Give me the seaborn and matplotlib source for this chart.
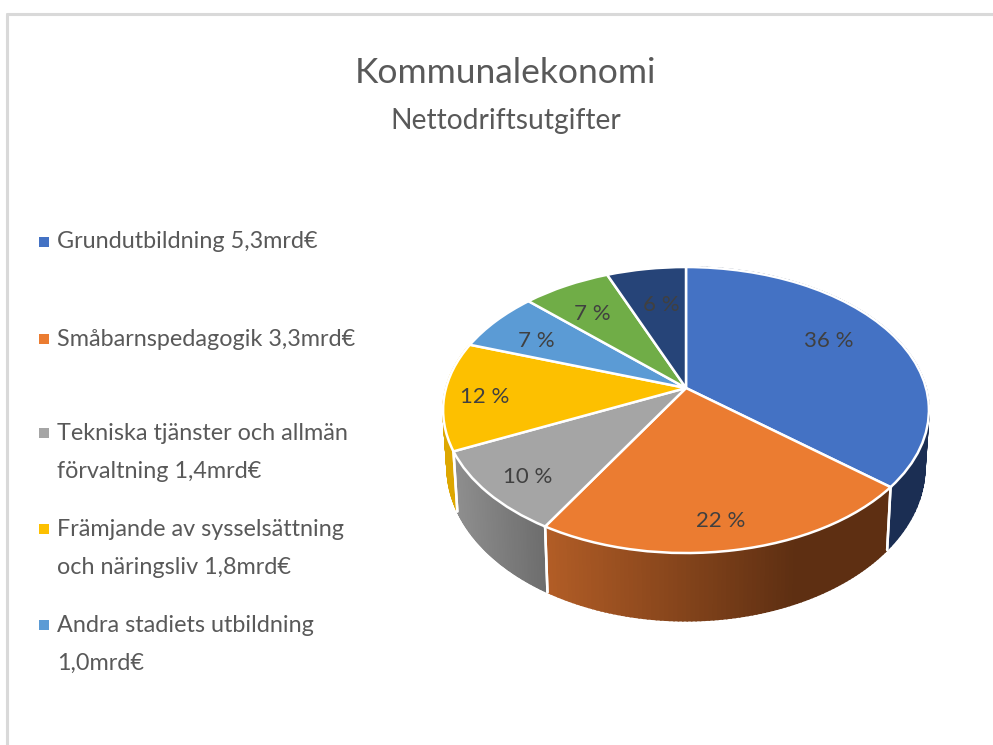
import matplotlib
matplotlib.use('Agg')
import matplotlib.pyplot as plt
import matplotlib.transforms as mtransforms
from matplotlib.colors import to_rgb
import seaborn as sns
import numpy as np

title = 'Kommunalekonomi'
subtitle = 'Nettodriftsutgifter'
# mrd euro, last two are not in the visible legend so estimated from the slices
amounts = [5.3, 3.3, 1.4, 1.8, 1.0, 1.0, 0.9]
share_labels = ['36 %', '22 %', '10 %', '12 %', '7 %', '7 %', '6 %']
legend_lines = [
    ['Grundutbildning 5,3mrd€'],
    ['Småbarnspedagogik 3,3mrd€'],
    ['Tekniska tjänster och allmän', 'förvaltning 1,4mrd€'],
    ['Främjande av sysselsättning', 'och näringsliv 1,8mrd€'],
    ['Andra stadiets utbildning', '1,0mrd€'],
]
top_colors = ['#4472C4', '#EB7C31', '#A5A5A5', '#FDC000', '#5B9BD5', '#70AD47', '#264478']

# pie centre and shape, in pixels
CX, CY = 686, 388
FONT = 'Lato'


def project(u, v, a=139.6, b=240.0, k=0.154, drop=0.0):
    # tilted disc: far side gets smaller than near side
    w = 1 + k * v
    return CX + b * u / w, CY - a * v / w + drop


class Tilt(mtransforms.Transform):
    input_dims = 2
    output_dims = 2

    def transform_non_affine(self, values):
        x, y = project(values[:, 0], values[:, 1])
        return np.column_stack([x, y])


def rim_color(i, t):
    # side faces, orange and grey have a gradient left to right
    if i == 1:
        f = min(t / 0.72, 1)
        return np.array(to_rgb('#B25D26')) * (1 - f) + np.array(to_rgb('#5E2F12')) * f
    if i == 2:
        return np.array(to_rgb('#8F8F8F')) * (1 - t) + np.array(to_rgb('#6D6D6D')) * t
    if i == 3:
        return to_rgb('#DDA700')
    return to_rgb('#1B2E53')


sns.set_theme(style='white')
plt.rcParams['font.family'] = [FONT, 'DejaVu Sans']

fig = plt.figure(figsize=(9.93, 7.45), dpi=100)
ax = fig.add_axes([0, 0, 1, 1])

wedges, _ = ax.pie(amounts, colors=sns.color_palette(top_colors), startangle=90, counterclock=False,
                   wedgeprops={'edgecolor': 'white', 'linewidth': 1.8})
tilt = Tilt() + ax.transData
for w in wedges:
    w.set_transform(tilt)
    w.set_zorder(5)

ax.set_aspect('auto')
ax.set_xlim(0, 993)
ax.set_ylim(745, 0)
ax.axis('off')

# side of the pie, only front slices can be seen
for i in [0, 1, 2, 3]:
    th = np.radians(np.linspace(wedges[i].theta1, wedges[i].theta2, 90))
    x_top, y_top = project(np.cos(th), np.sin(th))
    x_bot, y_bot = project(np.cos(th), np.sin(th), a=150, b=236, drop=55.4)
    front = np.sin(th) < 0.35
    xs = x_bot[front]
    for j in range(len(th) - 1):
        t = (x_bot[j] - xs.min()) / (xs.max() - xs.min())
        t = float(np.clip(t, 0, 1))
        c = rim_color(i, t)
        ax.fill([x_top[j], x_top[j + 1], x_bot[j + 1], x_bot[j]],
                [y_top[j], y_top[j + 1], y_bot[j + 1], y_bot[j]],
                facecolor=c, edgecolor=c, lw=1.2, zorder=2)
    # white seam at slice ends
    for j in [0, -1]:
        ax.plot([x_top[j], x_bot[j]], [y_top[j], y_bot[j]], color='white', lw=1.8, zorder=3)

label_pos = [(829, 341), (721, 521), (528, 477), (485, 397), (536, 341), (592, 314), (661, 305)]
for lab, (x, y) in zip(share_labels, label_pos):
    ax.text(x, y, lab, ha='center', va='center', fontsize=16, color='#404040', zorder=6)

ax.text(506, 73, title, ha='center', va='center', fontsize=25.5, color='#595959')
ax.text(506, 121, subtitle, ha='center', va='center', fontsize=20.3, color='#595959')

legend_y = [242, 339, 433, 529, 625]
for i, (lines, y) in enumerate(zip(legend_lines, legend_y)):
    ax.plot([44], [y], marker='s', ms=6.5, color=top_colors[i], ls='none', mew=0)
    for n, line in enumerate(lines):
        ax.text(57, y + n * 38.5, line, ha='left', va='center', fontsize=16.8, color='#595959')

# chart frame, cut by the screenshot at right and bottom
ax.plot([7, 7], [745, 14], color='#D9D9D9', lw=2.2)
ax.plot([7, 993], [14, 14], color='#D9D9D9', lw=2.2)

fig.savefig('out.png', dpi=100)
